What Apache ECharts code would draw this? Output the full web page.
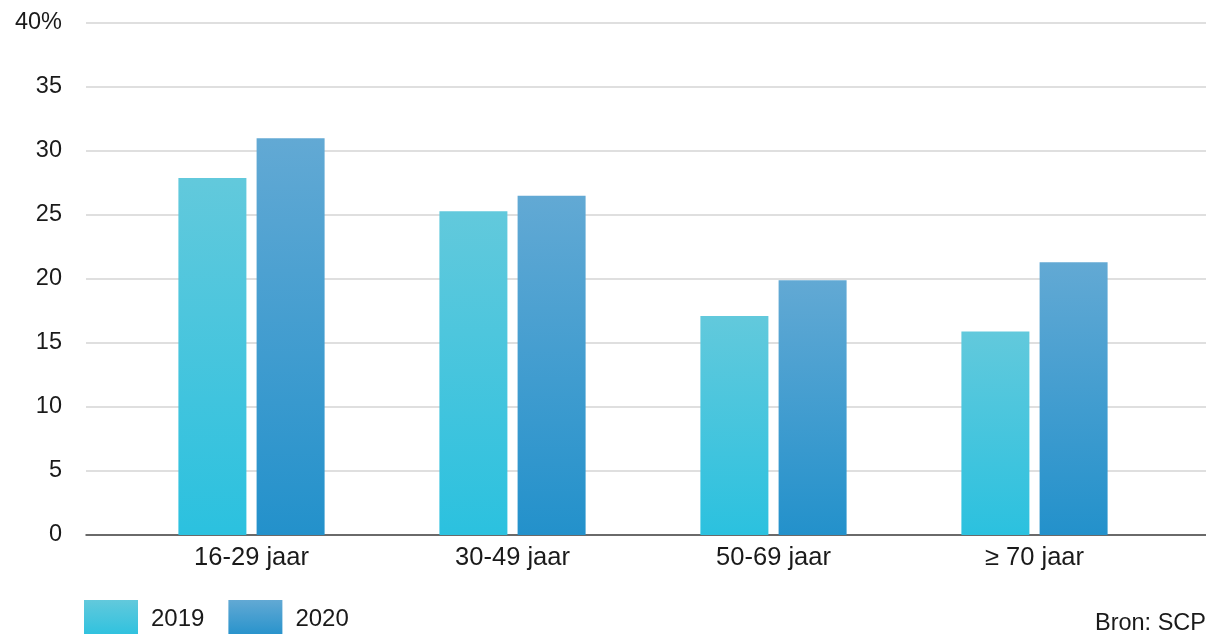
<!DOCTYPE html>
<html><head><meta charset="utf-8">
<script src="https://cdn.jsdelivr.net/npm/echarts@6/dist/echarts.min.js"></script>
<style>html,body{margin:0;padding:0;background:#fff}#c{width:1206px;height:634px}</style>
</head><body><div id="c"></div>
<script>
const categories = ['16-29 jaar', '30-49 jaar', '50-69 jaar', '≥ 70 jaar'];
const seriesNames = ['2019', '2020'];
const values2019 = [27.9, 25.3, 17.1, 15.9];
const values2020 = [31.0, 26.5, 19.9, 21.3];
const yTicks = [0, 5, 10, 15, 20, 25, 30, 35, 40];

const font = 'Liberation Sans, Arial, sans-serif';
function grad(top, bottom) {
  return new echarts.graphic.LinearGradient(0, 0, 0, 1, [
    { offset: 0, color: top }, { offset: 1, color: bottom }
  ]);
}
const chart = echarts.init(document.getElementById('c'));
chart.setOption({
  animation: false,
  backgroundColor: '#fff',
  grid: [
    { left: 86, right: 0, top: 23, bottom: 99 },
    { left: 121, right: 41, top: 23, bottom: 99 }
  ],
  legend: {
    left: 79, top: 595, itemWidth: 54, itemHeight: 38, itemGap: 24,
    icon: 'rect',
    textStyle: { fontFamily: font, fontSize: 24, color: '#1a1a1a', padding: [0, 0, 0, 8] },
    data: seriesNames
  },
  graphic: [{
    type: 'text', right: 0, bottom: -2,
    style: { text: 'Bron: SCP', font: '23.5px ' + font, fill: '#1a1a1a' }
  }],
  xAxis: [
    { type: 'category', gridIndex: 0, data: categories,
      axisLine: { lineStyle: { color: '#444', width: 1.5 } },
      axisTick: { show: false }, axisLabel: { show: false } },
    { type: 'category', gridIndex: 1, data: categories,
      axisLine: { show: false }, axisTick: { show: false },
      axisLabel: { fontFamily: font, fontSize: 25.5, color: '#1a1a1a', margin: 10 } }
  ],
  yAxis: [
    { type: 'value', gridIndex: 0, min: 0, max: 40, interval: 5,
      axisLine: { show: false }, axisTick: { show: false },
      splitLine: { lineStyle: { color: '#d4d4d4', width: 1.5 } },
      axisLabel: { fontFamily: font, fontSize: 23.5, color: '#1a1a1a', margin: 24,
        padding: [2, 0, 0, 0],
        formatter: v => yTicks.includes(v) ? (v === 40 ? '40%' : String(v)) : '' } },
    { type: 'value', gridIndex: 1, min: 0, max: 40, interval: 5, show: false,
      splitLine: { show: false } }
  ],
  series: [
    { name: seriesNames[0], type: 'bar', xAxisIndex: 1, yAxisIndex: 1, data: values2019,
      barWidth: 68, barGap: '15%',
      itemStyle: { color: grad('#62c9dc', '#2bc1df') } },
    { name: seriesNames[1], type: 'bar', xAxisIndex: 1, yAxisIndex: 1, data: values2020,
      barWidth: 68, barGap: '15%',
      itemStyle: { color: grad('#62a9d4', '#2391cb') } }
  ]
});
</script></body></html>
